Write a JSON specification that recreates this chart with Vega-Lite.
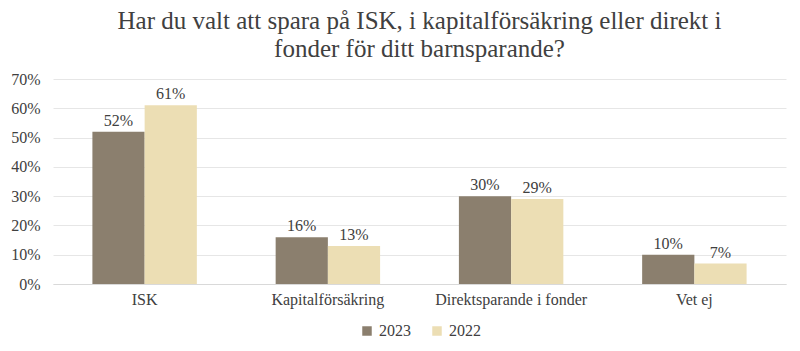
{
  "$schema": "https://vega.github.io/schema/vega-lite/v6.json",
  "width": 800,
  "height": 351,
  "autosize": {"type": "fit", "contains": "padding"},
  "padding": {"left": 10, "right": 14, "top": 9, "bottom": 12},
  "background": "white",
  "title": {
    "text": ["Har du valt att spara på ISK, i kapitalförsäkring eller direkt i", "fonder för ditt barnsparande?"],
    "font": "Liberation Serif",
    "fontSize": 25,
    "fontWeight": "normal",
    "color": "#404040",
    "anchor": "middle",
    "lineHeight": 28,
    "offset": 9
  },
  "data": {
    "values": [
      {"kategori": "ISK", "år": "2023", "andel": 0.52},
      {"kategori": "ISK", "år": "2022", "andel": 0.61},
      {"kategori": "Kapitalförsäkring", "år": "2023", "andel": 0.16},
      {"kategori": "Kapitalförsäkring", "år": "2022", "andel": 0.13},
      {"kategori": "Direktsparande i fonder", "år": "2023", "andel": 0.30},
      {"kategori": "Direktsparande i fonder", "år": "2022", "andel": 0.29},
      {"kategori": "Vet ej", "år": "2023", "andel": 0.10},
      {"kategori": "Vet ej", "år": "2022", "andel": 0.07}
    ]
  },
  "encoding": {
    "x": {
      "field": "kategori", "type": "nominal", "sort": null,
      "scale": {"paddingInner": 0.43, "paddingOuter": 0.215},
      "axis": {"title": null, "labelAngle": 0, "labelFont": "Liberation Serif", "labelFontSize": 16, "labelColor": "#404040", "domainColor": "#d9d9d9", "ticks": false, "labelPadding": 7}
    },
    "xOffset": {"field": "år", "type": "nominal", "sort": ["2023", "2022"]},
    "y": {
      "field": "andel", "type": "quantitative",
      "scale": {"domain": [0, 0.7]},
      "axis": {"title": null, "format": ".0%", "values": [0,0.1,0.2,0.3,0.4,0.5,0.6,0.7], "labelFont": "Liberation Serif", "labelFontSize": 16, "labelColor": "#404040", "domain": false, "ticks": false, "gridColor": "#e6e6e6", "labelPadding": 13}
    }
  },
  "layer": [
    {
      "mark": {"type": "bar"},
      "encoding": {
        "color": {
          "field": "år", "type": "nominal", "sort": ["2023", "2022"],
          "scale": {"domain": ["2023", "2022"], "range": ["#8b7f6e", "#ecdeb4"]},
          "legend": {"title": null, "orient": "bottom", "direction": "horizontal", "symbolType": "square", "symbolSize": 90, "labelFont": "Liberation Serif", "labelFontSize": 16, "labelColor": "#404040", "columnPadding": 18, "offset": 16}
        }
      }
    },
    {
      "mark": {"type": "text", "dy": -11, "font": "Liberation Serif", "fontSize": 16, "color": "#404040"},
      "encoding": {"text": {"field": "andel", "type": "quantitative", "format": ".0%"}}
    }
  ],
  "config": {
    "view": {"stroke": null},
    "legend": {"layout": {"bottom": {"anchor": "middle"}}}
  }
}
